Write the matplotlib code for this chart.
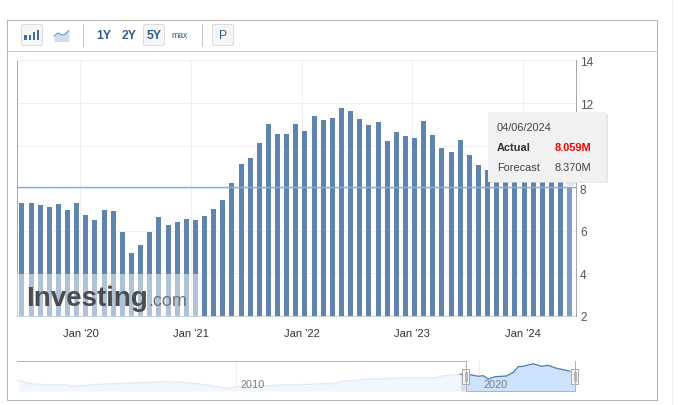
import numpy as np
import pandas as pd
import matplotlib
matplotlib.use("Agg")
import matplotlib.pyplot as plt
import matplotlib.dates as mdates
from matplotlib.patches import Rectangle, FancyBboxPatch, Polygon, Ellipse

plt.rcParams['font.family'] = ['Liberation Sans', 'DejaVu Sans']

# ---------- data ----------
first_release = '2019-06-22'
last_release = '2024-06-04'
openings = [7.30, 7.30, 7.20, 7.11, 7.25, 6.97, 7.30, 6.74, 6.50, 6.97, 6.92, 5.94,
            4.95, 5.33, 5.94, 6.64, 6.27, 6.41, 6.55, 6.50, 6.69, 7.02, 7.44, 8.24,
            9.13, 9.41, 10.11, 11.00, 10.53, 10.53, 11.00, 10.67, 11.38, 11.19, 11.28,
            11.75, 11.61, 11.24, 10.95, 11.10, 10.20, 10.63, 10.44, 10.34, 11.14, 10.49,
            9.88, 9.69, 10.25, 9.55, 9.08, 8.84, 8.70, 8.79, 9.03, 8.89, 8.86, 8.76,
            8.50, 8.49, 8.059]
y_ticks = [2, 4, 6, 8, 10, 12, 14]
y_tick_labels = ['2', '4', '6', '8', '', '12', '14']  # the 10 label sits behind the tooltip
x_tick_dates = ['2020-01-01', '2021-01-01', '2022-01-01', '2023-01-01', '2024-01-01']
x_tick_labels = ["Jan '20", "Jan '21", "Jan '22", "Jan '23", "Jan '24"]
tip_date = '04/06/2024'
tip_actual = '8.059M'
tip_forecast = '8.370M'
range_buttons = ['1Y', '2Y', '5Y']

nav_years = [2001.06, 2001.68, 2002.36, 2003.04, 2003.31, 2004.40, 2005.63, 2006.45, 2007.0,
             2007.82, 2008.5, 2009.59, 2010.27, 2011.23, 2011.91, 2012.66, 2014.02, 2014.43,
             2015.39, 2016.62, 2017.57, 2018.12, 2018.53, 2019.21, 2019.62, 2019.96, 2020.16,
             2020.37, 2020.64, 2021.12, 2021.39, 2021.6, 2021.8, 2022.21, 2022.55, 2022.82,
             2023.17, 2023.43, 2023.71]
nav_values = [3.15, 1.47, 0.96, 0.96, 0.3, 1.32, 1.98, 2.34, 2.64, 2.34, 1.47, -0.72, 0.6, 0.6,
              1.11, 1.11, 1.83, 2.85, 3.87, 4.53, 4.53, 4.53, 5.7, 6.4, 6.2, 5.4, 5.7, 4.02,
              5.19, 5.55, 7.4, 10.3, 10.5, 11.8, 10.5, 11.0, 9.5, 8.8, 8.0]
nav_ticks = [2010, 2020]

# ---------- style ----------
W, H = 679, 406
BAR = '#5f85ad'
BAR_HOVER = '#7b9dc6'
GRID = '#efefef'
AXIS = '#a9a9a9'
BLUE = '#2f5f92'
PX = 0.72  # one pixel, in points


def axes_px(x0, y0, x1, y1, **kw):
    return fig.add_axes([x0 / W, 1 - y1 / H, (x1 - x0) / W, (y1 - y0) / H], **kw)


fig = plt.figure(figsize=(W / 100, H / 100), dpi=100, facecolor='white')

# ---------- main chart ----------
ax = axes_px(16.5, 61.4, 575.5, 317)
dates = pd.date_range(first_release, last_release, periods=len(openings))
colors = [BAR] * (len(openings) - 1) + [BAR_HOVER]
ax.bar(dates, openings, width=16.5, color=colors, zorder=2, linewidth=0)
ax.set_ylim(2, 14)
ax.set_xlim(mdates.date2num(pd.Timestamp('2019-06-04')), mdates.date2num(pd.Timestamp('2024-06-23')))
ax.set_yticks(y_ticks)
ax.set_yticklabels(y_tick_labels)
ax.set_xticks(mdates.date2num(pd.to_datetime(x_tick_dates)))
ax.set_xticklabels(x_tick_labels, fontsize=8, color='#333333')
ax.yaxis.tick_right()
ax.tick_params(axis='y', length=0, pad=3.2, labelsize=8.6, labelcolor='#555555')
ax.tick_params(axis='x', length=0, pad=9)
ax.grid(True, color=GRID, linewidth=PX, zorder=0)
ax.set_axisbelow(True)
ax.spines['top'].set_color(GRID)
ax.spines['top'].set_linewidth(PX)
for s in ('left', 'right'):
    ax.spines[s].set_color(AXIS)
    ax.spines[s].set_linewidth(PX)
ax.spines['bottom'].set_color('#c4d3e4')
ax.spines['bottom'].set_linewidth(PX)
ax.axhline(openings[-1], color='#84b2de', linewidth=1.0, zorder=3)

# ---------- navigator ----------
nav = axes_px(17, 362, 575, 392)
nav.set_xlim(2001.0, 2023.93)
nav.set_ylim(-2.1, 13.2)
nav.axis('off')
sel_start = 2019.22
nav_x = np.array(nav_years)
nav_y = np.array(nav_values)
nav.fill_between(nav_x, -2.1, nav_y, color='#f2f7fd', linewidth=0, zorder=1)
nav.plot(nav_x, nav_y, color='#e0e9f3', linewidth=0.9, zorder=2)
for yr in nav_ticks:
    nav.axvline(yr, color='#eeeeee', linewidth=PX, zorder=0)
mask = nav_x >= sel_start
xs = np.r_[sel_start, nav_x[mask]]
ys = np.r_[6.4, nav_y[mask]]
nav.fill_between(xs, -2.1, ys, color='#cde2fb', linewidth=0, zorder=3)
nav.fill_between([nav_x[-1], 2023.93], -2.1, nav_y[-1], color='#cde2fb', linewidth=0, zorder=3)
nav.plot(xs, ys, color='#4a7fb0', linewidth=0.9, zorder=4)
for yr in nav_ticks:
    nav.text(yr + 0.17, -0.9, str(yr), fontsize=7.9, color='#808080', va='bottom', ha='left', zorder=5)

# ---------- chrome overlay ----------
ov = fig.add_axes([0, 0, 1, 1], facecolor='none', zorder=10)
ov.set_xlim(0, W)
ov.set_ylim(H, 0)
ov.axis('off')

# outer frame and toolbar rule
ov.add_patch(Rectangle((6.5, 20.5), 650.5, 380.5, fill=False, ec='#b4b4b4', lw=PX))
ov.plot([6.5, 657], [51.5, 51.5], color='#c6c6c6', lw=PX)
ov.plot([672, 672], [0, H], color='#f2f2f2', lw=PX)

# toolbar buttons
for x0, x1 in [(21.5, 42.5), (143.5, 164.5), (212.5, 233.5)]:
    ov.add_patch(FancyBboxPatch((x0 + 1, 26.5), x1 - x0 - 2, 19, boxstyle='round,pad=1,rounding_size=2',
                                fc='#f6f6f6', ec='#dcdcdc', lw=PX))
for x in (82.5, 201.5):
    ov.plot([x, x], [25, 47], color='#c4c4c4', lw=PX)
for x, h in zip([25, 29.5, 33.5, 37.5], [5, 5, 8, 10]):
    ov.add_patch(Rectangle((x - 1, 41 - h), 2.8, h, fc='#3f6d9e', ec='none'))
area_x = [54, 58, 61, 64, 69]
area_y = [37, 34, 35.5, 36, 31.5]
ov.fill_between(area_x, area_y, 42.5, color='#cfdff0', lw=0)
ov.plot(area_x, area_y, color='#5f8ab5', lw=PX)
for lab, x in zip(range_buttons, [103.5, 128.8, 154]):
    ov.text(x, 35.8, lab, ha='center', va='center', fontsize=8.8, color=BLUE, fontweight='bold')
ov.text(179.5, 36, 'max', ha='center', va='center', fontsize=6.2, color=BLUE)
ov.text(222.8, 35.8, 'P', ha='center', va='center', fontsize=8.8, color=BLUE)

# watermark
ov.add_patch(Rectangle((17, 275), 181, 42, fc='white', ec='none', alpha=0.5))
ov.text(26.5, 306, 'Investing', fontsize=20, fontweight='bold', color='#4a4c52', va='baseline', ha='left')
ov.text(148, 306, '.com', fontsize=13, color='#6f7176', va='baseline', ha='left')
ov.add_patch(Ellipse((110, 287.5), 3.6, 4.6, fc='#f0b44c', ec='none'))

# navigator frame and handles
ov.plot([17, 466, 466, 574.5, 574.5], [362.3, 362.3, 392, 392, 362.3], color='#b4b4b4', lw=PX)
for x in (465.8, 574.5):
    ov.add_patch(Rectangle((x - 3.5, 369.5), 7, 15.5, fc='#f4f4f4', ec='#aaaaaa', lw=PX))
    ov.plot([x - 1, x - 1], [373, 381.5], color='#aaaaaa', lw=0.6)
    ov.plot([x + 1, x + 1], [373, 381.5], color='#aaaaaa', lw=0.6)

# tooltip
ov.add_patch(Rectangle((490, 115), 118, 69, fc='#d8d8d8', ec='none', alpha=0.6))
ov.add_patch(Polygon([(564, 183), (578, 183), (571, 188)], fc='#e4e4e4', ec='none'))
ov.add_patch(Rectangle((488, 113), 118, 69.5, fc='#f1f1f1', ec='none'))
ov.text(497, 128.5, tip_date, fontsize=7.9, color='#444444', va='center', ha='left')
ov.text(497, 148.5, 'Actual', fontsize=7.9, fontweight='bold', color='#333333', va='center', ha='left')
ov.text(591, 148.5, tip_actual, fontsize=7.9, fontweight='bold', color='#ff0000', va='center', ha='right')
ov.text(497, 168.5, 'Forecast', fontsize=7.9, color='#444444', va='center', ha='left')
ov.text(591, 168.5, tip_forecast, fontsize=7.9, color='#444444', va='center', ha='right')

fig.savefig('out.png', dpi=100, facecolor='white')
